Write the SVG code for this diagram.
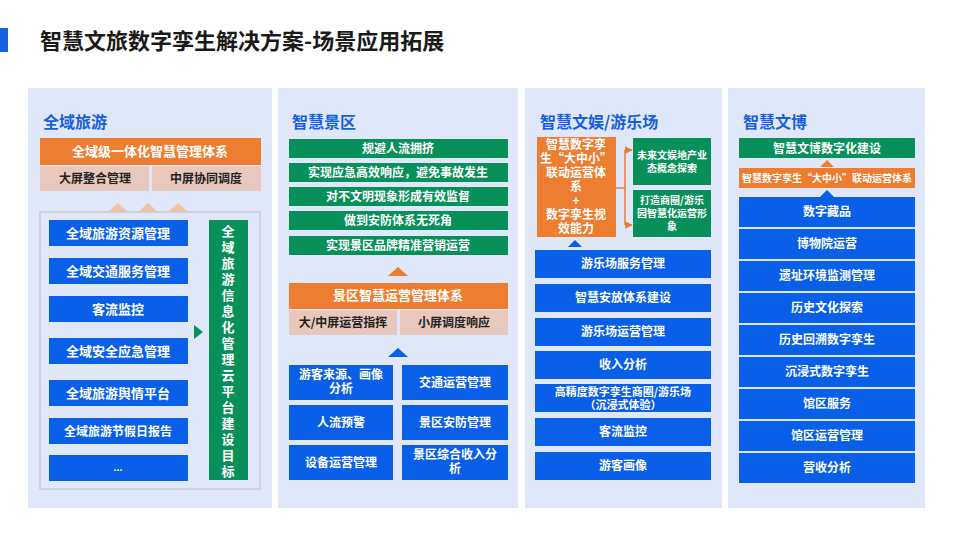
<svg xmlns="http://www.w3.org/2000/svg" width="960" height="540" viewBox="0 0 960 540">
<defs>
<style>
text{font-family:"Noto Sans CJK SC","Noto Sans",sans-serif;font-weight:bold;}
.panel{fill:#dfe7f8;}
.hd{fill:#1560e0;font-size:16px;}
.bl{fill:#0a5fe8;}
.gr{fill:#08905a;}
.or{fill:#ed7d31;}
.pk{fill:#e8c8bc;}
.w{fill:#fff;font-size:12px;text-anchor:middle;}
.k{fill:#222;font-size:12px;text-anchor:middle;}
</style>
<marker id="ar" viewBox="0 0 10 10" refX="9" refY="5" markerWidth="5" markerHeight="5" orient="auto"><path d="M0,0L10,5L0,10z" fill="#ed7d31"/></marker>
</defs>
<rect width="960" height="540" fill="#fff"/>
<rect x="0" y="28" width="8" height="24" fill="#1560e0"/>
<text x="40" y="49" style="font-size:22px" fill="#1a1a1a">智慧文旅数字孪生解决方案-场景应用拓展</text>

<g id="panel1">
<rect class="panel" x="28" y="88" width="244" height="420"/>
<text class="hd" x="43" y="128">全域旅游</text>
<rect class="or" x="40" y="138" width="221" height="27"/>
<text class="w" x="150" y="156" style="font-size:13px">全域级一体化智慧管理体系</text>
<rect class="pk" x="40" y="166" width="109" height="25"/>
<rect class="pk" x="152" y="166" width="109" height="25"/>
<text class="k" x="95" y="183">大屏整合管理</text>
<text class="k" x="206" y="183">中屏协同调度</text>
<path d="M108,212l10,-9l10,9zM138,212l10,-9l10,9zM168,212l10,-9l10,9z" fill="#f2c2a2"/>
<rect x="40" y="212" width="220" height="277" fill="none" stroke="#c8ccd4" stroke-width="1.5"/>
<rect class="bl" x="49" y="220" width="139" height="26"/><text class="w" x="118" y="238" style="font-size:13px">全域旅游资源管理</text>
<rect class="bl" x="49" y="258" width="139" height="26"/><text class="w" x="118" y="276" style="font-size:13px">全域交通服务管理</text>
<rect class="bl" x="49" y="296" width="139" height="26"/><text class="w" x="118" y="314" style="font-size:13px">客流监控</text>
<rect class="bl" x="49" y="338" width="139" height="26"/><text class="w" x="118" y="356" style="font-size:13px">全域安全应急管理</text>
<rect class="bl" x="49" y="380" width="139" height="26"/><text class="w" x="118" y="398" style="font-size:13px">全域旅游舆情平台</text>
<rect class="bl" x="49" y="418" width="139" height="26"/><text class="w" x="118" y="436">全域旅游节假日报告</text>
<rect class="bl" x="49" y="455" width="139" height="26"/><text class="w" x="118" y="471" style="font-size:9px">...</text>
<path d="M194,325l9,7l-9,7z" fill="#08905a"/>
<rect class="gr" x="209" y="220" width="39" height="260"/>
<text class="w" x="228" y="236" style="font-size:13px"><tspan x="228" dy="0">全</tspan><tspan x="228" dy="16">域</tspan><tspan x="228" dy="16">旅</tspan><tspan x="228" dy="16">游</tspan><tspan x="228" dy="16">信</tspan><tspan x="228" dy="16">息</tspan><tspan x="228" dy="16">化</tspan><tspan x="228" dy="16">管</tspan><tspan x="228" dy="16">理</tspan><tspan x="228" dy="16">云</tspan><tspan x="228" dy="16">平</tspan><tspan x="228" dy="16">台</tspan><tspan x="228" dy="16">建</tspan><tspan x="228" dy="16">设</tspan><tspan x="228" dy="16">目</tspan><tspan x="228" dy="16">标</tspan></text>
</g>

<g id="panel2">
<rect class="panel" x="278" y="88" width="240" height="420"/>
<text class="hd" x="292" y="128">智慧景区</text>
<rect class="gr" x="289" y="139" width="219" height="19"/><text class="w" x="398" y="153">规避人流拥挤</text>
<rect class="gr" x="289" y="163" width="219" height="19"/><text class="w" x="398" y="177">实现应急高效响应，避免事故发生</text>
<rect class="gr" x="289" y="187" width="219" height="19"/><text class="w" x="398" y="201">对不文明现象形成有效监督</text>
<rect class="gr" x="289" y="211" width="219" height="19"/><text class="w" x="398" y="225">做到安防体系无死角</text>
<rect class="gr" x="289" y="236" width="219" height="19"/><text class="w" x="398" y="250">实现景区品牌精准营销运营</text>
<path d="M388,276l10,-9l10,9z" fill="#ed7d31"/>
<rect class="or" x="289" y="283" width="219" height="26"/><text class="w" x="398" y="300" style="font-size:13px">景区智慧运营管理体系</text>
<rect class="pk" x="289" y="310" width="108" height="25"/><text class="k" x="343" y="327">大/中屏运营指挥</text>
<rect class="pk" x="400" y="310" width="108" height="25"/><text class="k" x="454" y="327">小屏调度响应</text>
<path d="M388,357l10,-9l10,9z" fill="#0a5fe8"/>
<rect class="bl" x="289" y="365" width="104" height="35"/><text class="w" x="341" y="379"><tspan x="341">游客来源、画像</tspan><tspan x="341" dy="14">分析</tspan></text>
<rect class="bl" x="402" y="365" width="106" height="35"/><text class="w" x="455" y="387">交通运营管理</text>
<rect class="bl" x="289" y="405" width="104" height="35"/><text class="w" x="341" y="427">人流预警</text>
<rect class="bl" x="402" y="405" width="106" height="35"/><text class="w" x="455" y="427">景区安防管理</text>
<rect class="bl" x="289" y="445" width="104" height="35"/><text class="w" x="341" y="467">设备运营管理</text>
<rect class="bl" x="402" y="445" width="106" height="35"/><text class="w" x="455" y="459"><tspan x="455">景区综合收入分</tspan><tspan x="455" dy="14">析</tspan></text>
</g>

<g id="panel3">
<rect class="panel" x="525" y="88" width="197" height="420"/>
<text class="hd" x="540" y="128">智慧文娱/游乐场</text>
<rect class="or" x="537" y="137" width="79" height="100"/>
<text class="w" x="576" y="149" style="font-size:12px"><tspan x="576">智慧数字孪</tspan><tspan x="576" dy="14">生“大中小”</tspan><tspan x="576" dy="14">联动运营体</tspan><tspan x="576" dy="14">系</tspan><tspan x="576" dy="14">+</tspan><tspan x="576" dy="14">数字孪生视</tspan><tspan x="576" dy="14">效能力</tspan></text>
<rect class="gr" x="633" y="138" width="78" height="47"/>
<text class="w" x="672" y="159" style="font-size:10px"><tspan x="672">未来文娱地产业</tspan><tspan x="672" dy="13">态概念探索</tspan></text>
<rect class="gr" x="633" y="190" width="78" height="47"/>
<text class="w" x="672" y="204" style="font-size:10px"><tspan x="672">打造商圈/游乐</tspan><tspan x="672" dy="13">园智慧化运营形</tspan><tspan x="672" dy="13">象</tspan></text>
<path d="M568,247l7,-7l7,7z" fill="#0a5fe8"/>
<rect class="bl" x="535" y="250" width="176" height="28"/><text class="w" x="623" y="268">游乐场服务管理</text>
<rect class="bl" x="535" y="284" width="176" height="28"/><text class="w" x="623" y="302">智慧安放体系建设</text>
<rect class="bl" x="535" y="318" width="176" height="28"/><text class="w" x="623" y="336">游乐场运营管理</text>
<rect class="bl" x="535" y="351" width="176" height="28"/><text class="w" x="623" y="369">收入分析</text>
<rect class="bl" x="535" y="384" width="176" height="28"/><text class="w" x="623" y="396" style="font-size:11px"><tspan x="623">高精度数字孪生商圈/游乐场</tspan><tspan x="623" dy="13">（沉浸式体验）</tspan></text>
<rect class="bl" x="535" y="418" width="176" height="28"/><text class="w" x="623" y="436">客流监控</text>
<rect class="bl" x="535" y="452" width="176" height="28"/><text class="w" x="623" y="470">游客画像</text>
</g>

<g id="panel4">
<rect class="panel" x="728" y="88" width="197" height="420"/>
<text class="hd" x="743" y="128">智慧文博</text>
<rect class="gr" x="739" y="138" width="176" height="20"/><text class="w" x="827" y="153">智慧文博数字化建设</text>
<path d="M820,167l7,-7l7,7z" fill="#ed7d31"/>
<rect class="or" x="739" y="168" width="176" height="20"/><text class="w" x="827" y="182" style="font-size:10px">智慧数字孪生“大中小”联动运营体系</text>
<path d="M820,197l7,-7l7,7z" fill="#0a5fe8"/>
<rect class="bl" x="739" y="197" width="176" height="30"/><text class="w" x="827" y="216">数字藏品</text>
<rect class="bl" x="739" y="229" width="176" height="30"/><text class="w" x="827" y="248">博物院运营</text>
<rect class="bl" x="739" y="261" width="176" height="30"/><text class="w" x="827" y="280">遗址环境监测管理</text>
<rect class="bl" x="739" y="293" width="176" height="30"/><text class="w" x="827" y="312">历史文化探索</text>
<rect class="bl" x="739" y="325" width="176" height="30"/><text class="w" x="827" y="344">历史回溯数字孪生</text>
<rect class="bl" x="739" y="357" width="176" height="30"/><text class="w" x="827" y="376">沉浸式数字孪生</text>
<rect class="bl" x="739" y="389" width="176" height="30"/><text class="w" x="827" y="408">馆区服务</text>
<rect class="bl" x="739" y="421" width="176" height="30"/><text class="w" x="827" y="440">馆区运营管理</text>
<rect class="bl" x="739" y="453" width="176" height="30"/><text class="w" x="827" y="472">营收分析</text>
</g>

<g id="connectors" fill="none" stroke="#ed7d31" stroke-width="1.5">
<path d="M616,188h9"/>
<path d="M625,150v75"/>
<path d="M625,150h7" marker-end="url(#ar)"/>
<path d="M625,225h7" marker-end="url(#ar)"/>
</g>
</svg>
